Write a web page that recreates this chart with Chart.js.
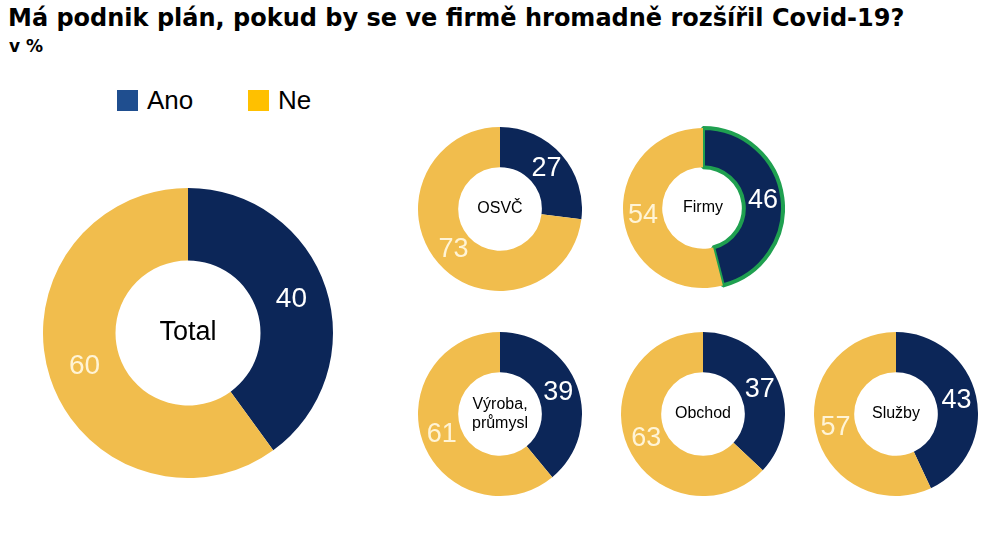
<!DOCTYPE html>
<html>
<head>
<meta charset="utf-8">
<script src="https://cdn.jsdelivr.net/npm/chart.js@4"></script>
<style>
  body { margin:0; width:991px; height:558px; background:#fff; position:relative; overflow:hidden; font-family:"Liberation Sans", Arial, sans-serif; }
  #title { position:absolute; left:8px; top:4px; font-family:"DejaVu Sans", sans-serif; font-size:24px; font-weight:bold; color:#000; white-space:nowrap; }
  #sub { position:absolute; left:9px; top:36px; font-family:"DejaVu Sans", sans-serif; font-size:17px; font-weight:bold; color:#000; }
  .leg { position:absolute; top:85px; font-size:26px; color:#000; display:flex; align-items:center; }
  .leg span.box { width:21px; height:21px; display:inline-block; margin-right:9px; }
  .wrap { position:absolute; }
</style>
</head>
<body>
<div id="title">Má podnik plán, pokud by se ve firmě hromadně rozšířil Covid-19?</div>
<div id="sub">v %</div>
<div id="legend"></div>

<script>
// data
const groups = ['Total', 'OSVČ', 'Firmy', 'Výroba, průmysl', 'Obchod', 'Služby'];
const ano = [40, 27, 46, 39, 37, 43];
const ne = [60, 73, 54, 61, 63, 57];
const seriesLabels = ['Ano', 'Ne'];

// look
const navy = '#0c2658';
const yellow = '#f1bd4d';
const legendColors = ['#1f4e8f', '#ffc000'];

// where each donut sits: cx, cy, radius
const layout = [
  [188, 333, 145],
  [500, 209, 82],
  [703, 208, 82],
  [500, 414, 82],
  [703, 414, 82],
  [896, 414, 82]
];

/* legend */
let legendBox = document.getElementById('legend');
let legX = [117, 248];
seriesLabels.forEach(function(name, i) {
  let d = document.createElement('div');
  d.className = 'leg';
  d.style.left = legX[i] + 'px';
  d.innerHTML = '<span class="box" style="background:' + legendColors[i] + '"></span>' + name;
  legendBox.appendChild(d);
});

/* labels inside the ring + text in the hole */
const donutText = {
  id: 'donutText',
  afterDatasetsDraw(chart, args, opts) {
    const c = chart.ctx;
    const meta = chart.getDatasetMeta(0);
    c.save();
    c.textAlign = 'center';
    c.textBaseline = 'middle';
    c.font = opts.valueSize + 'px "Liberation Sans", Arial, sans-serif';
    meta.data.forEach(function(arc, i) {
      const p = arc.tooltipPosition();
      c.fillStyle = i == 0 ? '#ffffff' : '#fff4d6';
      c.fillText(chart.data.datasets[0].data[i], p.x, p.y);
    });
    const a = meta.data[0];
    c.fillStyle = '#000';
    c.font = opts.centerSize + 'px "Liberation Sans", Arial, sans-serif';
    const lines = opts.center.split(', ');
    if (lines.length > 1) lines[0] = lines[0] + ',';
    const lh = opts.centerSize * 1.2;
    lines.forEach(function(t, k) {
      c.fillText(t, a.x, a.y + (k - (lines.length - 1) / 2) * lh);
    });
    c.restore();
  }
};

groups.forEach(function(g, i) {
  const cx = layout[i][0], cy = layout[i][1], r = layout[i][2];
  const wrap = document.createElement('div');
  wrap.className = 'wrap';
  wrap.style.left = (cx - r) + 'px';
  wrap.style.top = (cy - r) + 'px';
  wrap.style.width = (2 * r) + 'px';
  wrap.style.height = (2 * r) + 'px';
  const cv = document.createElement('canvas');
  wrap.appendChild(cv);
  document.body.appendChild(wrap);

  const isFirmy = g == 'Firmy';
  const big = i == 0;

  new Chart(cv, {
    type: 'doughnut',
    data: {
      labels: seriesLabels,
      datasets: [{
        data: [ano[i], ne[i]],
        backgroundColor: [navy, yellow],
        borderColor: isFirmy ? ['#1fa050', yellow] : [navy, yellow],
        borderWidth: isFirmy ? [4, 0] : 0
      }]
    },
    options: {
      responsive: true,
      maintainAspectRatio: false,
      animation: false,
      cutout: big ? '50%' : '51%',
      layout: { padding: 0 },
      plugins: {
        legend: { display: false },
        tooltip: { enabled: false },
        donutText: {
          center: g,
          valueSize: big ? 28 : 27,
          centerSize: big ? 27 : 16
        }
      }
    },
    plugins: [donutText]
  });
});
</script>
</body>
</html>
